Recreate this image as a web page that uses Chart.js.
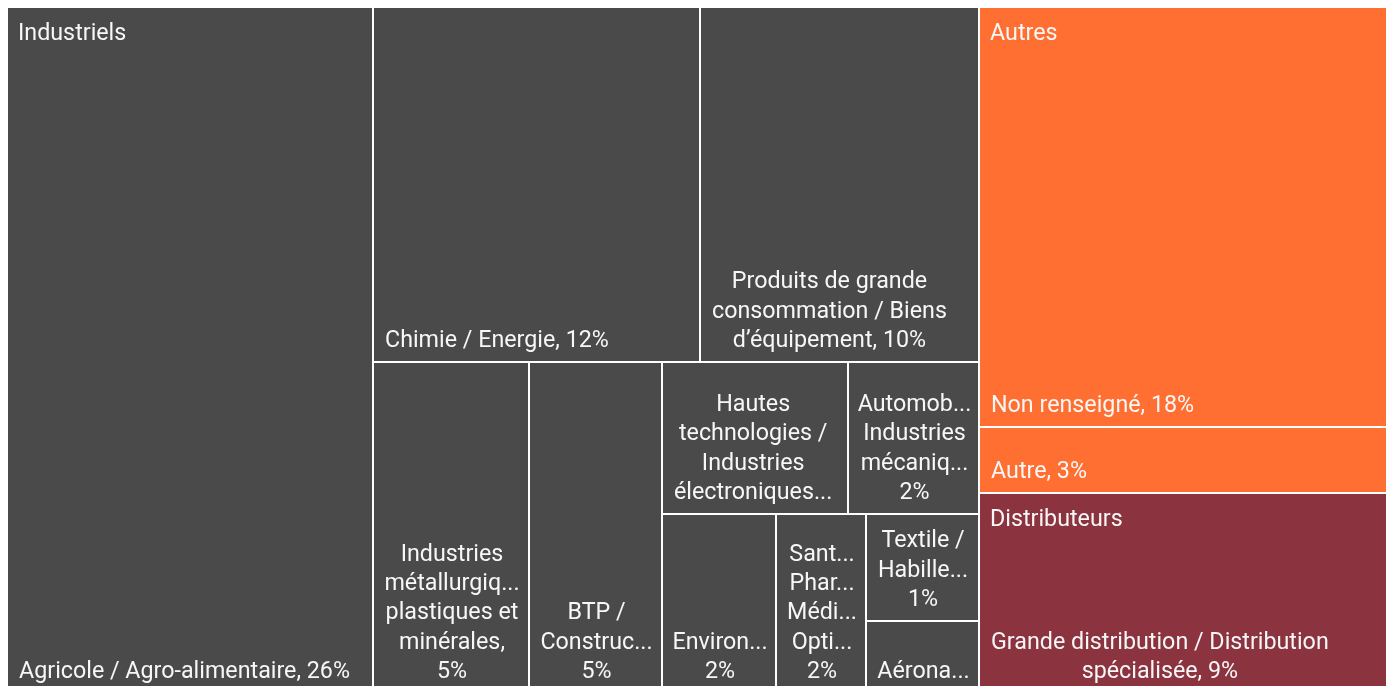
<!DOCTYPE html>
<html><head><meta charset="utf-8">
<script src="https://cdn.jsdelivr.net/npm/chart.js@4.4.1/dist/chart.umd.min.js"></script>
<style>html,body{margin:0;padding:0;overflow:hidden;background:#fff}canvas{display:block}</style>
</head><body><canvas id="c" width="1396" height="700"></canvas>
<script>
// ---- data ----
const groupNames = ['Industriels', 'Autres', 'Distributeurs'];
const categories = [
  'Agricole / Agro-alimentaire',
  'Chimie / Energie',
  'Produits de grande consommation / Biens d\u2019équipement',
  'Industries métallurgiques, plastiques et minérales',
  'BTP / Construction',
  'Hautes technologies / Industries électroniques',
  'Automobile / Industries mécaniques',
  'Environnement',
  'Santé / Pharmacie / Médical / Optique',
  'Textile / Habillement',
  'Aéronautique',
  'Non renseigné',
  'Autre',
  'Grande distribution / Distribution spécialisée'
];
const categoryGroups = [0,0,0,0,0,0,0,0,0,0,0,1,1,2];
const values = [26.48, 12.25, 10.45, 5.46, 4.63, 2.97, 2.1, 2.15, 1.72, 1.28, 0.85, 18.16, 2.86, 8.65];

// ---- styles ----
const groupColors = ['#4a4a4a', '#ff6f31', '#8c3340'];
const RATIO = 0.8;
const FONT_FAMILY = 'Roboto, "Noto Sans", sans-serif';

function squarify(vals, x0, y0, x1, y1, ratio) {
  const out = new Array(vals.length);
  const n = vals.length;
  let value = vals.reduce((a, b) => a + b, 0);
  let i0 = 0;
  while (i0 < n) {
    const dx = x1 - x0, dy = y1 - y0;
    let i1 = i0;
    let sumV = vals[i1++];
    let minV = sumV, maxV = sumV;
    const alpha = Math.max(dy / dx, dx / dy) / (value * ratio);
    let beta = sumV * sumV * alpha;
    let minRatio = Math.max(maxV / beta, beta / minV);
    for (; i1 < n; ++i1) {
      const nv = vals[i1];
      sumV += nv;
      if (nv < minV) minV = nv;
      if (nv > maxV) maxV = nv;
      beta = sumV * sumV * alpha;
      const nr = Math.max(maxV / beta, beta / minV);
      if (nr > minRatio) { sumV -= nv; break; }
      minRatio = nr;
    }
    if (dx < dy) {
      const yy = (i1 >= n) ? y1 : y0 + dy * sumV / value;
      let x = x0;
      for (let k = i0; k < i1; k++) {
        const w = dx * vals[k] / sumV;
        out[k] = [x, y0, x + w, yy];
        x += w;
      }
      y0 = yy;
    } else {
      const xx = (i1 >= n) ? x1 : x0 + dx * sumV / value;
      let y = y0;
      for (let k = i0; k < i1; k++) {
        const h = dy * vals[k] / sumV;
        out[k] = [x0, y, xx, y + h];
        y += h;
      }
      x0 = xx;
    }
    value -= sumV;
    i0 = i1;
  }
  return out;
}

function cut(ctx, s, maxW) {
  let t = s;
  while (t.length > 1 && ctx.measureText(t + '...').width > maxW) t = t.slice(0, -1);
  return t.replace(/[\s,\/]+$/, '') + '...';
}

function wrapLabel(ctx, text, maxW, cutW, maxLines) {
  if (maxLines < 1) return [];
  const raw = text.split(' ');
  const toks = [];
  raw.forEach(t => {
    if (t === '/' && toks.length) toks[toks.length - 1] += ' /';
    else toks.push(t);
  });
  const lines = [];
  let cur = '';
  toks.forEach(t => {
    if (!cur) { cur = t; return; }
    const test = cur + ' ' + t;
    if (ctx.measureText(test).width <= maxW) cur = test;
    else { lines.push(cur); cur = t; }
  });
  if (cur) lines.push(cur);
  const fit = l => ctx.measureText(l).width <= maxW ? l : cut(ctx, l, cutW);
  if (lines.length > maxLines) {
    const res = lines.slice(0, maxLines - 1).map(fit);
    res.push(cut(ctx, lines.slice(maxLines - 1).join(' '), cutW));
    return res;
  }
  return lines.map(fit);
}

const treemapPlugin = {
  id: 'treemap',
  afterDatasetsDraw(chart) {
    const ctx = chart.ctx;
    const xs = chart.scales.x, ys = chart.scales.y;
    const area = chart.chartArea;
    const W = area.right - area.left, H = area.bottom - area.top;
    const total = values.reduce((a, b) => a + b, 0);
    const gTot = groupNames.map((g, gi) => values.reduce((s, v, i) => s + (categoryGroups[i] === gi ? v : 0), 0));
    const gRects = squarify(gTot, 0, 0, W, H, RATIO);
    const px = u => Math.round(xs.getPixelForValue(u / W));
    const py = u => Math.round(ys.getPixelForValue(u / H));

    ctx.save();
    ctx.font = '22px ' + FONT_FAMILY;
    const fs = 22 * 224 / ctx.measureText('Chimie / Energie, 12%').width;
    const font = fs.toFixed(2) + 'px ' + FONT_FAMILY;
    ctx.font = font;
    const lineH = 29.3, padX = 10;

    const cells = [];
    groupNames.forEach((g, gi) => {
      const idx = [];
      values.forEach((v, i) => { if (categoryGroups[i] === gi) idx.push(i); });
      const r = gRects[gi];
      const cr = squarify(idx.map(i => values[i]), r[0], r[1], r[2], r[3], RATIO);
      idx.forEach((i, k) => cells.push({ i, gi, r: cr[k] }));
    });

    cells.forEach(c => {
      const x0 = px(c.r[0]), y0 = py(c.r[1]), x1 = px(c.r[2]), y1 = py(c.r[3]);
      c.p = [x0 + 1, y0 + 1, x1 - 1, y1 - 1];
      ctx.fillStyle = groupColors[c.gi];
      ctx.fillRect(c.p[0], c.p[1], c.p[2] - c.p[0], c.p[3] - c.p[1]);
    });

    ctx.fillStyle = '#f7f7f7';
    ctx.textBaseline = 'alphabetic';
    cells.forEach(c => {
      const [x0, y0, x1, y1] = c.p;
      const w = x1 - x0, h = y1 - y0;
      const maxW = w - 2 * padX;
      const maxLines = Math.floor((h - 16) / lineH);
      const pct = Math.round(values[c.i] / total * 100);
      const lines = wrapLabel(ctx, categories[c.i] + ', ' + pct + '%', maxW, maxW + 5, maxLines);
      if (!lines.length) return;
      const bw = Math.max(...lines.map(l => ctx.measureText(l).width));
      const cx = Math.min(x0 + padX + 1 + bw / 2, x0 + w / 2 + 1);
      ctx.textAlign = 'center';
      lines.forEach((l, k) => {
        const yb = y1 - 14 - (lines.length - 1 - k) * lineH;
        ctx.fillText(l, cx, yb);
      });
    });
    groupNames.forEach((g, gi) => {
      const r = gRects[gi];
      ctx.textAlign = 'left';
      ctx.fillText(g, px(r[0]) + 1 + padX, py(r[1]) + 1 + 32);
    });
    ctx.restore();
  }
};

new Chart(document.getElementById('c'), {
  type: 'scatter',
  data: { datasets: [{ label: 'Répartition', data: [] }] },
  options: {
    responsive: false,
    animation: false,
    events: [],
    layout: { padding: { left: 7, top: 7, right: 7, bottom: 7 } },
    plugins: { legend: { display: false }, tooltip: { enabled: false } },
    scales: {
      x: { type: 'linear', min: 0, max: 1, display: false },
      y: { type: 'linear', min: 0, max: 1, reverse: true, display: false }
    }
  },
  plugins: [treemapPlugin]
});
</script>
</body></html>
